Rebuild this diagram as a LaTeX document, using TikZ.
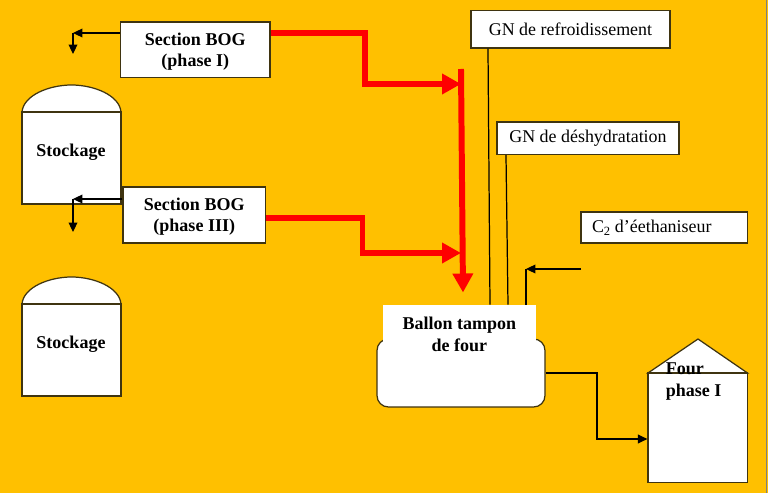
\documentclass[tikz,border=0pt]{standalone}
\usepackage{fontspec}
\setmainfont{Liberation Serif}
\usetikzlibrary{arrows.meta, positioning, calc}
\definecolor{inkbg}{HTML}{FFC000}
\definecolor{inkedge}{HTML}{3F3410}
\definecolor{inkred}{HTML}{FF0000}
\tikzset{
  hotline/.style={draw=inkred, line width=3.4pt},
  hotflow/.style={hotline, -{Triangle[length=10.8pt, width=11.2pt]}},
  gasline/.style={draw=black, line width=0.7pt},
  gasflow/.style={gasline, -{Triangle[length=5.4pt, width=5pt]}},
  shell/.style={draw=inkedge, line width=0.7pt, fill=white},
  heavy/.style={font=\fontsize{10.25}{12.2}\selectfont\bfseries}
}
\newcommand{\feedbox}[6][]{%
  \node[shell, inner sep=0pt, minimum width=#4*0.02cm, minimum height=#5*0.02cm,
        align=center, #1] (#2) at (#3) {#6};}
\newcommand{\tankshell}[3]{%
  \fill[white, draw=inkedge, line width=0.7pt] (#2-49.5,#3-46)
    .. controls (#2-48,#3-63) and (#2-22,#3-73) .. (#2,#3-73)
    .. controls (#2+22,#3-73) and (#2+48,#3-63) .. (#2+49.5,#3-46) -- cycle;
  \node[shell, inner sep=0pt, minimum width=99*0.02cm, minimum height=92*0.02cm] (#1) at (#2,#3) {};
  \node[heavy, inner sep=0pt] (#1txt) at (#2-0.5,#3-6) {Stockage};}

\begin{document}
\begin{tikzpicture}[x=0.02cm, y=-0.02cm, font=\fontsize{10.2}{12}\selectfont]
  \useasboundingbox (0,0) rectangle (768,493);
  \fill[inkbg] (0,0) rectangle (768,493);
  \draw[gray, line width=0.5pt] (766.6,0) -- (766.6,493);

  \tankshell{tankup}{71.5}{158}
  \tankshell{tankdown}{71.5}{350}

  \feedbox[heavy]{bogone}{195.25,49.75}{149.5}{55.5}{\rule{0pt}{9pt}Section BOG\\(phase I)}
  \feedbox[heavy]{bogthree}{194.25,215}{142.5}{56}{\rule{0pt}{9pt}Section BOG\\(phase III)}
  \feedbox{gnfroid}{570.5,29.25}{199}{37.5}{GN de refroidissement}
  \feedbox{gndry}{588,138.25}{182}{32.5}{GN de déshydratation}
  \feedbox[text width=2.89cm, inner xsep=0.22cm, align=left]{ctwo}{664.25,227.5}{166.5}{31}{C\textsubscript{2}\kern-1.2pt{} d’éethaniseur}

  % buffer drum, its white caption patch hides the top edge
  \node[shell, rounded corners=6.5pt, inner sep=0pt, minimum width=168*0.02cm,
        minimum height=68*0.02cm] (drum) at (461,373) {};
  \node[fill=white, inner sep=0pt, minimum width=153.3*0.02cm, minimum height=57*0.02cm,
        align=center, heavy] (drumtxt) at (459.35,333.5) {\rule{0pt}{8pt}Ballon tampon\\de four};

  % furnace
  \fill[white, draw=inkedge, line width=0.7pt] (648,373) -- (698,339) -- (747.5,373) -- cycle;
  \node[shell, inner sep=0pt, minimum width=99.5*0.02cm, minimum height=109.5*0.02cm] (furnace) at (697.75,427.75) {};
  \node[heavy, align=left, inner sep=0pt, anchor=west] (furnacetxt) at (665.5,381.5) {Four\\phase I};

  \coordinate (bendone) at (73,33);
  \coordinate (dropone) at (73,54);
  \coordinate (bendthree) at (73,199);
  \coordinate (dropthree) at (73,232);
  \draw[gasflow] (bogone.west |- bendone) -- (bendone);
  \draw[gasflow] (bendone) -- (dropone);
  \draw[gasflow] (bogthree.west |- bendthree) -- (bendthree);
  \draw[gasflow] (bendthree) -- (dropthree);

  \coordinate (hubtop) at (461,69);
  \coordinate (hubup) at (461,84);
  \coordinate (hubmid) at (461,253);
  \coordinate (hubend) at (463,292.5);
  \coordinate (kneeone) at (365,33);
  \coordinate (kneethree) at (362.5,218);
  \draw[hotflow] (hubtop) -- (hubend);
  \draw[hotflow] (bogone.east |- kneeone) -- (kneeone) |- (hubup);
  \draw[hotflow] (bogthree.east |- kneethree) -- (kneethree) |- (hubmid);

  \coordinate (dropfroid) at (488,48);
  \coordinate (dropdry) at (506,154.5);
  \coordinate (ctwostart) at (581,269);
  \coordinate (ctwobend) at (526,269);
  \draw[gasline] (gnfroid.south -| dropfroid) -- (drumtxt.north -| 490,0);
  \draw[gasline] (gndry.south -| dropdry) -- (drumtxt.north -| 508,0);
  \draw[gasflow] (ctwostart) -- (ctwobend);
  \draw[gasline] (drumtxt.north -| ctwobend) -- (ctwobend);
  \draw[gasflow, line width=0.8pt] (drum.east) -- (597,373) |- (furnace.west |- 0,439);
\end{tikzpicture}
\end{document}
